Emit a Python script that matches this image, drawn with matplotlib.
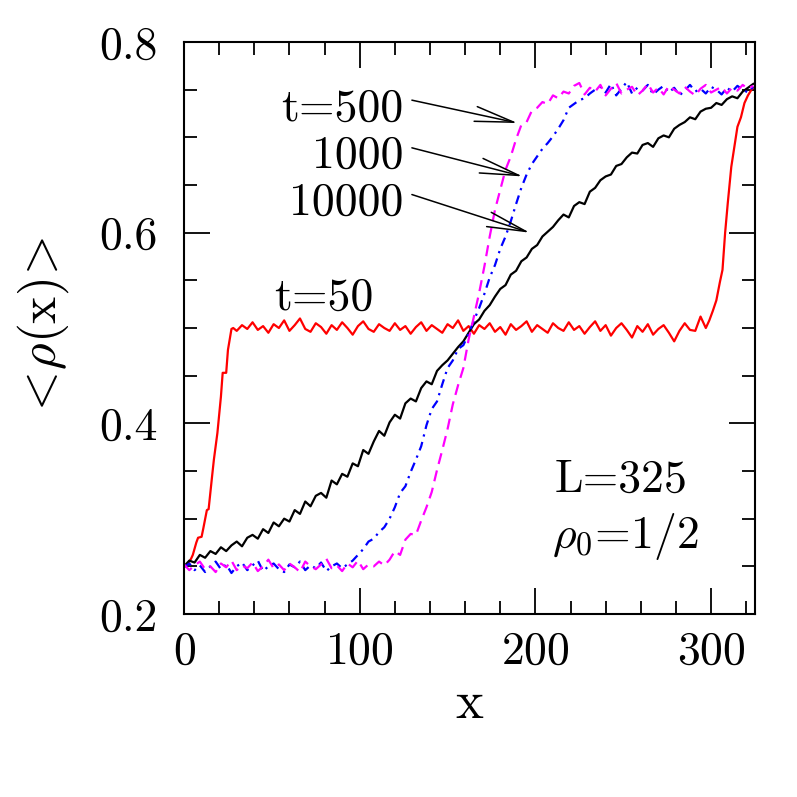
import numpy as np
import matplotlib
matplotlib.use("Agg")
import matplotlib.pyplot as plt

plt.rcParams["font.family"] = ["cmr10", "DejaVu Serif"]
plt.rcParams["mathtext.fontset"] = "cm"
plt.rcParams["axes.formatter.use_mathtext"] = True

# ---- data -----------------------------------------------------------------
# t = 50 (red, solid)
x50_left = [0, 2, 4, 5, 7, 8, 10, 11, 13, 14, 16, 17, 19, 21, 22, 24, 25, 27, 28]
r50_left = [0.250, 0.252, 0.258, 0.262, 0.275, 0.280, 0.281, 0.290, 0.309, 0.310,
            0.345, 0.362, 0.390, 0.428, 0.453, 0.453, 0.477, 0.499, 0.500]
x50_mid = np.arange(30, 298, 3)
r50_mid = [0.497, 0.503, 0.499, 0.506, 0.498, 0.502, 0.495, 0.504, 0.500, 0.508,
           0.497, 0.503, 0.510, 0.499, 0.496, 0.505, 0.501, 0.494, 0.503, 0.498,
           0.506, 0.500, 0.493, 0.502, 0.507, 0.499, 0.496, 0.504, 0.500, 0.497,
           0.505, 0.498, 0.502, 0.494, 0.501, 0.506, 0.497, 0.503, 0.499, 0.495,
           0.504, 0.500, 0.508, 0.497, 0.502, 0.494, 0.503, 0.499, 0.505, 0.496,
           0.501, 0.493, 0.504, 0.498, 0.502, 0.507, 0.496, 0.503, 0.499, 0.495,
           0.505, 0.500, 0.497, 0.506, 0.498, 0.502, 0.494, 0.501, 0.507, 0.497,
           0.503, 0.492, 0.500, 0.505, 0.498, 0.490, 0.502, 0.496, 0.504, 0.493,
           0.499, 0.503, 0.495, 0.486, 0.497, 0.505, 0.498, 0.497, 0.512, 0.500]
x50_right = [299, 301, 303, 305, 306.5, 308, 309.5, 311.5, 313, 315, 317, 319, 321, 323, 324]
r50_right = [0.508, 0.518, 0.529, 0.548, 0.561, 0.600, 0.631, 0.669, 0.687, 0.711,
             0.721, 0.736, 0.744, 0.750, 0.752]

# t = 500 (magenta, dashed)
x500_flat = np.arange(0, 115, 3)
r500_flat = [0.252, 0.246, 0.251, 0.255, 0.247, 0.250, 0.244, 0.253, 0.249, 0.256,
             0.246, 0.251, 0.248, 0.254, 0.245, 0.250, 0.257, 0.248, 0.252, 0.246,
             0.253, 0.249, 0.244, 0.255, 0.250, 0.247, 0.252, 0.258, 0.248, 0.251,
             0.245, 0.253, 0.249, 0.256, 0.247, 0.252, 0.250, 0.255, 0.251]
x500_rise = np.arange(117, 223, 3)
r500_rise = [0.257, 0.266, 0.262, 0.278, 0.284, 0.283, 0.298, 0.312, 0.328, 0.351,
             0.372, 0.394, 0.420, 0.440, 0.458, 0.488, 0.512, 0.537, 0.565, 0.596,
             0.624, 0.645, 0.666, 0.680, 0.698, 0.713, 0.716, 0.728, 0.731, 0.737,
             0.735, 0.744, 0.741, 0.748, 0.746, 0.754]
x500_top = np.arange(225, 325, 3)
r500_top = [0.757, 0.745, 0.752, 0.748, 0.755, 0.744, 0.751, 0.757, 0.746, 0.750,
            0.753, 0.744, 0.749, 0.756, 0.747, 0.752, 0.745, 0.754, 0.750, 0.746,
            0.753, 0.748, 0.744, 0.751, 0.755, 0.747, 0.750, 0.753, 0.746, 0.752,
            0.749, 0.755, 0.751, 0.754]

# t = 1000 (blue, dash-dot)
x1000_flat = np.arange(0, 97, 3)
r1000_flat = [0.249, 0.253, 0.246, 0.251, 0.244, 0.250, 0.255, 0.247, 0.252, 0.243,
              0.250, 0.254, 0.246, 0.251, 0.256, 0.245, 0.250, 0.253, 0.247, 0.244,
              0.252, 0.249, 0.255, 0.246, 0.251, 0.248, 0.254, 0.245, 0.250, 0.253,
              0.248, 0.252, 0.256]
x1000_rise = np.arange(99, 235, 3)
r1000_rise = [0.262, 0.268, 0.276, 0.279, 0.286, 0.291, 0.300, 0.312, 0.327, 0.334,
              0.349, 0.362, 0.376, 0.398, 0.415, 0.423, 0.441, 0.458, 0.466, 0.478,
              0.482, 0.494, 0.508, 0.521, 0.536, 0.553, 0.566, 0.583, 0.596, 0.612,
              0.630, 0.647, 0.661, 0.672, 0.680, 0.688, 0.694, 0.701, 0.709, 0.718,
              0.731, 0.735, 0.739, 0.741, 0.746, 0.750]
x1000_top = np.arange(237, 325, 3)
r1000_top = [0.753, 0.747, 0.756, 0.744, 0.751, 0.758, 0.746, 0.752, 0.749, 0.755,
             0.745, 0.750, 0.754, 0.747, 0.752, 0.744, 0.749, 0.755, 0.748, 0.751,
             0.746, 0.753, 0.750, 0.745, 0.752, 0.748, 0.754, 0.750, 0.747, 0.753]

# t = 10000 (black, solid)
x10000 = np.arange(0, 325, 3)
r10000 = [0.250, 0.256, 0.254, 0.262, 0.259, 0.266, 0.263, 0.270, 0.266, 0.272,
          0.276, 0.271, 0.280, 0.283, 0.279, 0.289, 0.285, 0.296, 0.292, 0.300,
          0.297, 0.309, 0.305, 0.318, 0.313, 0.324, 0.327, 0.322, 0.340, 0.336,
          0.347, 0.344, 0.358, 0.355, 0.372, 0.368, 0.381, 0.392, 0.387, 0.401,
          0.409, 0.405, 0.421, 0.426, 0.423, 0.437, 0.444, 0.441, 0.455, 0.461,
          0.466, 0.473, 0.480, 0.486, 0.495, 0.504, 0.509, 0.518, 0.524, 0.533,
          0.541, 0.545, 0.556, 0.560, 0.570, 0.574, 0.583, 0.587, 0.596, 0.601,
          0.606, 0.613, 0.619, 0.616, 0.628, 0.632, 0.630, 0.643, 0.647, 0.655,
          0.659, 0.661, 0.670, 0.672, 0.679, 0.684, 0.683, 0.692, 0.694, 0.690,
          0.699, 0.702, 0.700, 0.709, 0.713, 0.716, 0.721, 0.719, 0.727, 0.730,
          0.731, 0.736, 0.734, 0.740, 0.743, 0.741, 0.748, 0.752, 0.756]

# labels and arrows: (text, text anchor, arrow start, arrow tip)
arrow_labels = ["t=500", "1000", "10000"]
label_pos = [(125, 0.717), (125, 0.668), (125, 0.6186)]
arrow_from = [(129.7, 0.739), (129.7, 0.689), (129.7, 0.640)]
arrow_to = [(189.9, 0.715), (192.8, 0.659), (196.8, 0.600)]

# ---- figure ---------------------------------------------------------------
fig = plt.figure(figsize=(7.97, 7.97), dpi=100)
ax = fig.add_axes([0.2309, 0.2296, 0.7164, 0.7177])

ax.plot(np.concatenate([x50_left, x50_mid, x50_right]),
        np.concatenate([r50_left, r50_mid, r50_right]),
        color="#ff0000", lw=1.6)
ax.plot(x10000, r10000, color="k", lw=1.6)
ax.plot(np.concatenate([x1000_flat, x1000_rise, x1000_top]),
        np.concatenate([r1000_flat, r1000_rise, r1000_top]),
        color="#0000ff", lw=1.6, dashes=(4, 2.5, 1, 2.5))
ax.plot(np.concatenate([x500_flat, x500_rise, x500_top]),
        np.concatenate([r500_flat, r500_rise, r500_top]),
        color="#ff00ff", lw=1.6, dashes=(5, 3))

ax.set_xlim(0, 325)
ax.set_ylim(0.2, 0.8)
ax.set_xticks([0, 100, 200, 300])
ax.set_xticks(np.arange(0, 325, 20), minor=True)
ax.set_yticks([0.2, 0.4, 0.6, 0.8])
ax.set_yticks(np.arange(0.2, 0.801, 0.05), minor=True)
ax.set_yticklabels(["0.2", "0.4", "0.6", "0.8"])
ax.tick_params(which="both", direction="in", top=True, right=True,
               width=1.3, labelsize=33)
ax.tick_params(which="major", length=19, pad=12)
ax.tick_params(which="minor", length=9.5)
ax.tick_params(axis="y", pad=19)
for s in ax.spines.values():
    s.set_linewidth(1.5)

ax.set_xlabel("x", fontsize=38, labelpad=6)
ax.set_ylabel(r"$<\!\rho(\mathrm{x})\!>$", fontsize=37, labelpad=20)

for txt, (tx, ty), a0, a1 in zip(arrow_labels, label_pos, arrow_from, arrow_to):
    ax.text(tx, ty, txt, fontsize=33, ha="right", va="baseline")
    ax.annotate("", xy=a1, xytext=a0,
                arrowprops=dict(arrowstyle="->,head_length=1.4,head_width=0.27",
                                lw=1.1, color="k", shrinkA=0, shrinkB=0,
                                mutation_scale=20))

ax.text(51.2, 0.519, "t=50", fontsize=33, ha="left", va="baseline")
ax.text(211, 0.328, "L=325", fontsize=33, ha="left", va="baseline")
ax.text(209.3, 0.269, r"$\rho_0$=1/2", fontsize=33, ha="left", va="baseline")

fig.savefig("out.png", dpi=100)
